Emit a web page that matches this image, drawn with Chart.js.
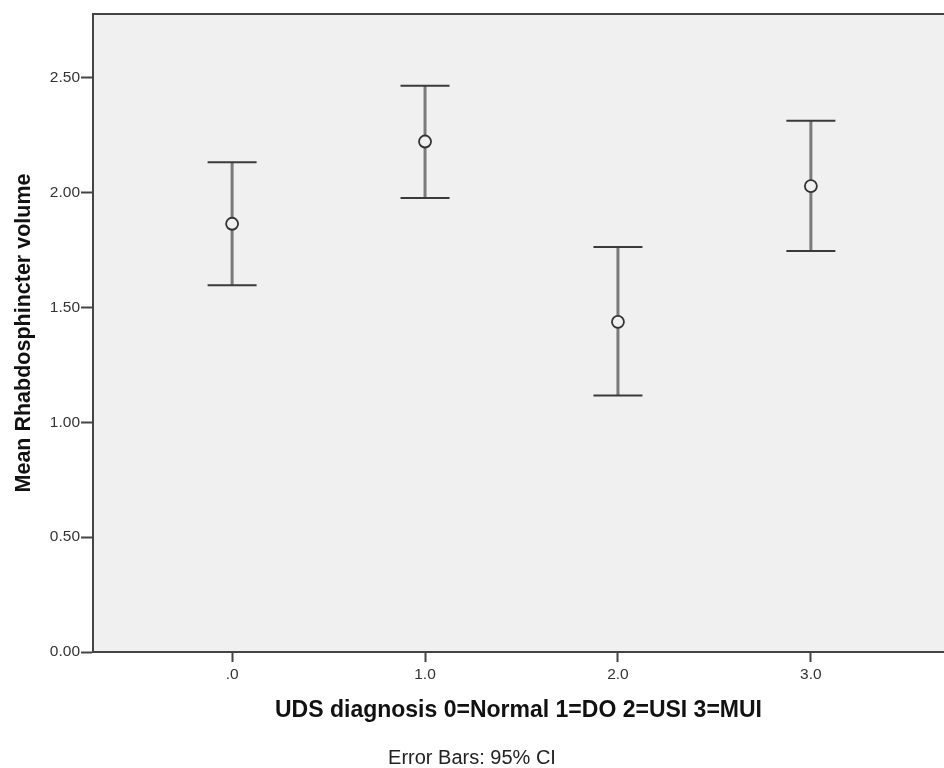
<!DOCTYPE html>
<html>
<head>
<meta charset="utf-8">
<script src="https://cdn.jsdelivr.net/npm/chart.js@4/dist/chart.umd.min.js"></script>
<style>
  html, body { margin: 0; padding: 0; background: #fff; }
  #wrap { width: 944px; height: 768px; }
</style>
</head>
<body>
<div id="wrap"><canvas id="chart" width="944" height="768"></canvas></div>
<script>
const categories = [0, 1, 2, 3]
const xTickLabels = ['.0', '1.0', '2.0', '3.0']
const means = [1.864, 2.222, 1.437, 2.028]
const ciLower = [1.596, 1.976, 1.116, 1.745]
const ciUpper = [2.132, 2.465, 1.763, 2.312]
const yTickValues = [0, 0.5, 1.0, 1.5, 2.0, 2.5]

const plotBg = '#f0f0f0'
const axisColor = '#444'
const fontFamily = 'Liberation Sans, Arial, sans-serif'

// plot background, top border and the error bars themselves
const errorBarPlugin = {
  id: 'errorBars',
  beforeDraw: (chart) => {
    const { ctx, chartArea } = chart
    ctx.save()
    ctx.fillStyle = plotBg
    ctx.fillRect(chartArea.left, chartArea.top, chartArea.right - chartArea.left, chartArea.bottom - chartArea.top)
    ctx.strokeStyle = axisColor
    ctx.lineWidth = 2
    ctx.beginPath()
    ctx.moveTo(chartArea.left, chartArea.top)
    ctx.lineTo(chartArea.right, chartArea.top)
    ctx.stroke()
    ctx.restore()
  },
  beforeDatasetsDraw: (chart) => {
    const { ctx } = chart
    const xs = chart.scales.x
    const ys = chart.scales.y
    const capHalf = 24.5
    ctx.save()
    categories.forEach((c, i) => {
      const px = xs.getPixelForValue(c)
      const yLo = ys.getPixelForValue(ciLower[i])
      const yHi = ys.getPixelForValue(ciUpper[i])
      ctx.strokeStyle = '#7a7a7a'
      ctx.lineWidth = 3
      ctx.beginPath()
      ctx.moveTo(px, yLo)
      ctx.lineTo(px, yHi)
      ctx.stroke()
      ctx.strokeStyle = '#3a3a3a'
      ctx.lineWidth = 2
      ctx.beginPath()
      ctx.moveTo(px - capHalf, yHi)
      ctx.lineTo(px + capHalf, yHi)
      ctx.moveTo(px - capHalf, yLo)
      ctx.lineTo(px + capHalf, yLo)
      ctx.stroke()
    })
    ctx.restore()
  }
}

const ctx = document.getElementById('chart').getContext('2d')
const chart = new Chart(ctx, {
  type: 'scatter',
  data: {
    datasets: [{
      data: categories.map((c, i) => ({ x: c, y: means[i] })),
      pointRadius: 6,
      pointHoverRadius: 6,
      pointBorderWidth: 1.8,
      pointBorderColor: '#333',
      pointBackgroundColor: plotBg
    }]
  },
  options: {
    responsive: false,
    animation: false,
    layout: { padding: { left: 0, top: 14, right: 0, bottom: 0 } },
    plugins: {
      legend: { display: false },
      tooltip: { enabled: false },
      subtitle: {
        display: true,
        position: 'bottom',
        text: 'Error Bars: 95% CI',
        color: '#222',
        font: { family: fontFamily, size: 20, lineHeight: 1 },
        padding: 0
      }
    },
    scales: {
      x: {
        type: 'linear',
        min: -0.721,
        max: 3.69,
        afterBuildTicks: (scale) => { scale.ticks = categories.map(v => ({ value: v })) },
        afterFit: (scale) => {
          scale.height = 96
          scale.paddingLeft = 0
          scale.paddingRight = 0
        },
        ticks: {
          color: '#333',
          font: { family: fontFamily, size: 15.5 },
          padding: 3,
          maxRotation: 0,
          callback: (v) => xTickLabels[categories.indexOf(v)]
        },
        grid: { drawOnChartArea: false, tickLength: 10, tickWidth: 2, tickColor: axisColor },
        border: { color: axisColor, width: 2 },
        title: {
          display: true,
          text: 'UDS diagnosis 0=Normal 1=DO 2=USI 3=MUI',
          color: '#111',
          font: { family: fontFamily, size: 23, weight: 'bold', lineHeight: 1.2 },
          padding: { top: 0, bottom: 24 }
        }
      },
      y: {
        min: 0,
        max: 2.777,
        afterBuildTicks: (scale) => { scale.ticks = yTickValues.map(v => ({ value: v })) },
        afterFit: (scale) => { scale.width = 93 },
        ticks: {
          color: '#333',
          font: { family: fontFamily, size: 15.5 },
          padding: 1,
          callback: (v) => v.toFixed(2)
        },
        grid: { drawOnChartArea: false, tickLength: 12, tickWidth: 2, tickColor: axisColor },
        border: { color: axisColor, width: 2 },
        title: {
          display: true,
          text: 'Mean Rhabdosphincter volume',
          color: '#111',
          font: { family: fontFamily, size: 21.5, weight: 'bold', lineHeight: 1.2 },
          padding: { top: 11, bottom: 0 }
        }
      }
    }
  },
  plugins: [errorBarPlugin]
})

// the point markers reserve room round the plot; the reference runs to the right edge
chart.getDatasetMeta(0).controller.getMaxOverflow = () => 0
chart.update()
</script>
</body>
</html>
